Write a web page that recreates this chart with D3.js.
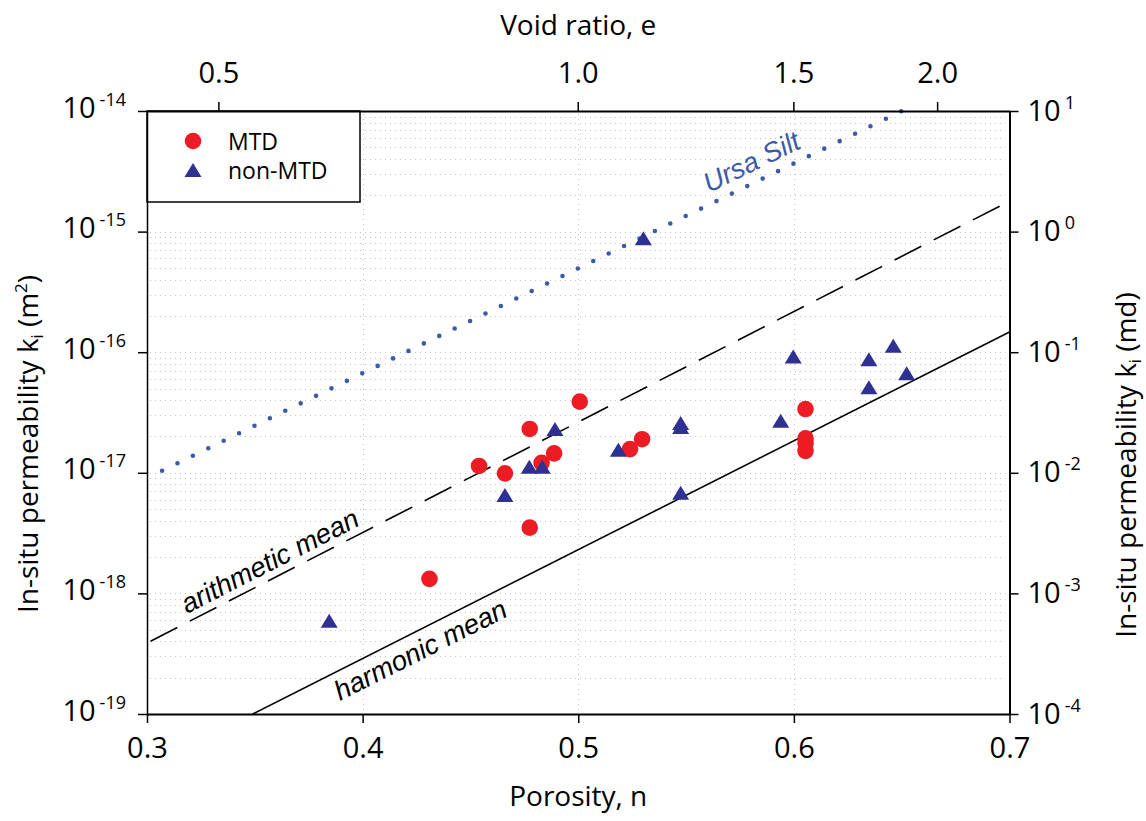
<!DOCTYPE html>
<html>
<head>
<meta charset="utf-8">
<script src="https://cdn.jsdelivr.net/npm/d3@7"></script>
<style>
  body { margin: 0; background: #fff; }
  svg text { font-family: "Open Sans", sans-serif; }
  .italic { font-family: "Liberation Sans", Arial, sans-serif !important; font-style: italic; }
</style>
</head>
<body>
<div id="chart"></div>
<script>
// ===============================
// Données
// ===============================
const porosityTicks = [0.3, 0.4, 0.5, 0.6, 0.7];
const voidRatioTicks = [0.5, 1.0, 1.5, 2.0];
const permTicksM2 = [1e-19, 1e-18, 1e-17, 1e-16, 1e-15, 1e-14];
const permTicksMd = [1e-4, 1e-3, 1e-2, 1e-1, 1e0, 1e1];
const gridPorosity = [0.4, 0.5, 0.6];

// MTD (cercles rouges)
const mtdPorosity = [0.431, 0.454, 0.466, 0.4775, 0.4775, 0.483, 0.4888, 0.5007, 0.524, 0.5296, 0.6054, 0.6054, 0.6054, 0.6054];
const mtdPerm = [1.32e-18, 1.14e-17, 9.9e-18, 2.31e-17, 3.51e-18, 1.21e-17, 1.45e-17, 3.89e-17, 1.57e-17, 1.90e-17, 3.38e-17, 1.93e-17, 1.76e-17, 1.52e-17];

// non-MTD (triangles bleus)
const nonMtdPorosity = [0.3845, 0.466, 0.4773, 0.4833, 0.4892, 0.5186, 0.5302, 0.5475, 0.5475, 0.5475, 0.5939, 0.5997, 0.6348, 0.6348, 0.6461, 0.6523];
const nonMtdPerm = [5.94e-19, 6.55e-18, 1.12e-17, 1.12e-17, 2.31e-17, 1.55e-17, 8.79e-16, 2.59e-17, 2.40e-17, 6.84e-18, 2.70e-17, 9.19e-17, 8.73e-17, 5.12e-17, 1.13e-16, 6.68e-17];

// Droites de référence
const ursaPorosity = [0.307, 0.650];
const ursaPerm = [1.04e-17, 1.0e-14];
const arithPorosity = [0.3, 0.7];
const arithPerm = [3.88e-19, 1.79e-15];
const harmPorosity = [0.349, 0.7];
const harmPerm = [1e-19, 1.47e-16];

// ===============================
// Mise en place
// ===============================
const W = 1146, H = 821;
const plotLeft = 147, plotRight = 1009.5, plotTop = 111, plotBottom = 714;

const svg = d3.select("#chart").append("svg").attr("width", W).attr("height", H);

const x = d3.scaleLinear().domain([0.3, 0.7]).range([plotLeft, plotRight]);
const y = d3.scaleLog().domain([1e-19, 1e-14]).range([plotBottom, plotTop]);
const yMd = d3.scaleLog().domain([1e-4, 1e1]).range([plotBottom, plotTop]);
const xVoid = e => x(e / (1 + e));

// Grille pointillée
let gridValues = [];
for (let d = -19; d < -14; d++) {
    for (let m = 1; m <= 9; m++) {
        let v = m * Math.pow(10, d);
        if (d === -19 && m === 1) continue;
        gridValues.push(v);
    }
}
const grid = svg.append("g").attr("stroke", "#c4c4c4").attr("stroke-width", 1).attr("stroke-dasharray", "1,4");
grid.selectAll("line.h").data(gridValues).enter().append("line")
    .attr("x1", plotLeft + 3).attr("x2", plotRight - 4)
    .attr("y1", d => Math.round(y(d)) + 0.5).attr("y2", d => Math.round(y(d)) + 0.5);
grid.selectAll("line.v").data(gridPorosity).enter().append("line")
    .attr("x1", d => Math.round(x(d)) + 0.5).attr("x2", d => Math.round(x(d)) + 0.5)
    .attr("y1", plotTop + 3).attr("y2", plotBottom - 3);

// Légende (fond blanc par-dessus la grille)
const legend = svg.append("g");
legend.append("rect").attr("x", plotLeft).attr("y", plotTop).attr("width", 213).attr("height", 91)
    .attr("fill", "#fff").attr("stroke", "#000").attr("stroke-width", 1.5);
legend.append("circle").attr("cx", 193).attr("cy", 141).attr("r", 8.3).attr("fill", "#ed1c24");
legend.append("path").attr("d", "M0,-7L8.5,7L-8.5,7Z").attr("transform", "translate(193,170)").attr("fill", "#2e3192");
legend.append("text").attr("x", 228).attr("y", 150).attr("font-size", 23).text("MTD");
legend.append("text").attr("x", 228).attr("y", 179).attr("font-size", 23).text("non-MTD");

// ===============================
// Droites
// ===============================
const line = d3.line().x(d => x(d[0])).y(d => y(d[1]));

const ursaPath = svg.append("path")
    .attr("d", line(d3.zip(ursaPorosity, ursaPerm)))
    .attr("fill", "none").attr("stroke", "#3d5aa9").attr("stroke-width", 4.6)
    .attr("stroke-linecap", "round");
const ursaLen = ursaPath.node().getTotalLength();
ursaPath.attr("stroke-dasharray", "0," + (ursaLen / 48 - 0.01));

svg.append("path")
    .attr("d", line(d3.zip(arithPorosity, arithPerm)))
    .attr("fill", "none").attr("stroke", "#000").attr("stroke-width", 1.6)
    .attr("stroke-dasharray", "30,14").attr("stroke-dashoffset", -4);

svg.append("path")
    .attr("d", line(d3.zip(harmPorosity, harmPerm)))
    .attr("fill", "none").attr("stroke", "#000").attr("stroke-width", 1.6);

// Étiquettes des droites
function angle(xs, ks) {
    return Math.atan2(y(ks[1]) - y(ks[0]), x(xs[1]) - x(xs[0])) * 180 / Math.PI;
}
svg.append("text").attr("class", "italic").attr("font-size", 27.5).attr("fill", "#3d5aa9")
    .attr("transform", `translate(709,193) rotate(${angle(ursaPorosity, ursaPerm)})`)
    .text("Ursa Silt");
svg.append("text").attr("class", "italic").attr("font-size", 27.5).attr("fill", "#000")
    .attr("transform", `translate(187,614) rotate(${angle(arithPorosity, arithPerm)})`)
    .text("arithmetic mean");
svg.append("text").attr("class", "italic").attr("font-size", 27.5).attr("fill", "#000")
    .attr("transform", `translate(340,701) rotate(${angle(harmPorosity, harmPerm)})`)
    .text("harmonic mean");

// ===============================
// Points
// ===============================
svg.append("g").selectAll("circle").data(d3.zip(mtdPorosity, mtdPerm)).enter().append("circle")
    .attr("cx", d => x(d[0])).attr("cy", d => y(d[1])).attr("r", 8.3).attr("fill", "#ed1c24");

svg.append("g").selectAll("path").data(d3.zip(nonMtdPorosity, nonMtdPerm)).enter().append("path")
    .attr("d", "M0,-7L8.5,7L-8.5,7Z")
    .attr("transform", d => `translate(${x(d[0])},${y(d[1])})`)
    .attr("fill", "#2e3192");

// ===============================
// Axes
// ===============================
function styleAxis(g, width) {
    g.attr("font-family", null).attr("font-size", null).attr("fill", "#000");
    g.select(".domain").attr("stroke", "#000").attr("stroke-width", width).attr("fill", "none");
    g.selectAll(".tick line").attr("stroke", "#000").attr("stroke-width", 1.5);
    g.selectAll(".tick text").attr("fill", "#000").attr("font-size", 29);
}

const gBottom = svg.append("g").attr("transform", `translate(0,${plotBottom})`)
    .call(d3.axisBottom(x).tickValues(porosityTicks).tickSize(9).tickSizeOuter(0).tickPadding(14).tickFormat(d3.format(".1f")));
styleAxis(gBottom, 2);

const gTop = svg.append("g").attr("transform", `translate(0,${plotTop})`)
    .call(d3.axisTop(x).tickValues([]).tickSizeOuter(0));
styleAxis(gTop, 2);
gTop.selectAll("g.vt").data(voidRatioTicks).enter().append("g").attr("class", "vt")
    .attr("transform", d => `translate(${xVoid(d)},0)`)
    .call(g => {
        g.append("line").attr("y2", -9).attr("stroke", "#000").attr("stroke-width", 1.5);
        g.append("text").attr("y", -28).attr("text-anchor", "middle").attr("font-size", 29)
            .attr("fill", "#000").text(d => d3.format(".1f")(d));
    });

const expo = d => Math.round(Math.log10(d));

const gLeft = svg.append("g").attr("transform", `translate(${plotLeft},0)`)
    .call(d3.axisLeft(y).tickValues(permTicksM2).tickSize(9).tickSizeOuter(0).tickFormat(""));
styleAxis(gLeft, 1.5);
gLeft.selectAll(".tick text").remove();
gLeft.selectAll(".tick").append("text")
    .attr("x", -21).attr("y", 6).attr("text-anchor", "end").attr("fill", "#000")
    .call(t => {
        t.append("tspan").attr("font-size", 29).text("10");
        t.append("tspan").attr("font-size", 18).attr("dx", 4).attr("dy", -12).text(d => expo(d));
    });

const gRight = svg.append("g").attr("transform", `translate(${plotRight},0)`)
    .call(d3.axisRight(yMd).tickValues(permTicksMd).tickSize(9).tickSizeOuter(0).tickFormat(""));
styleAxis(gRight, 2);
gRight.selectAll(".tick text").remove();
gRight.selectAll(".tick").append("text")
    .attr("x", 18).attr("y", 9).attr("text-anchor", "start").attr("fill", "#000")
    .call(t => {
        t.append("tspan").attr("font-size", 29).text("10");
        t.append("tspan").attr("font-size", 18).attr("dx", 4).attr("dy", -12).text(d => expo(d));
    });

// Titres
svg.append("text").attr("x", (plotLeft + plotRight) / 2).attr("y", 806).attr("text-anchor", "middle")
    .attr("font-size", 28).text("Porosity, n");
svg.append("text").attr("x", (plotLeft + plotRight) / 2).attr("y", 35).attr("text-anchor", "middle")
    .attr("font-size", 28).text("Void ratio, e");

function titreY(xPos, yPos, unite, sup) {
    const t = svg.append("text").attr("transform", `translate(${xPos},${yPos}) rotate(-90)`)
        .attr("text-anchor", "middle").attr("font-size", 28);
    t.append("tspan").text("In-situ permeability k");
    t.append("tspan").attr("font-size", 16).attr("dy", 5).text("i");
    t.append("tspan").attr("dy", -5).text(" (" + unite);
    if (sup) {
        t.append("tspan").attr("font-size", 17).attr("dy", -11).text(sup);
        t.append("tspan").attr("dy", 11).text(")");
    } else {
        t.append("tspan").text(")");
    }
}
titreY(38, 444, "m", "2");
titreY(1136, 465, "md", null);
</script>
</body>
</html>
